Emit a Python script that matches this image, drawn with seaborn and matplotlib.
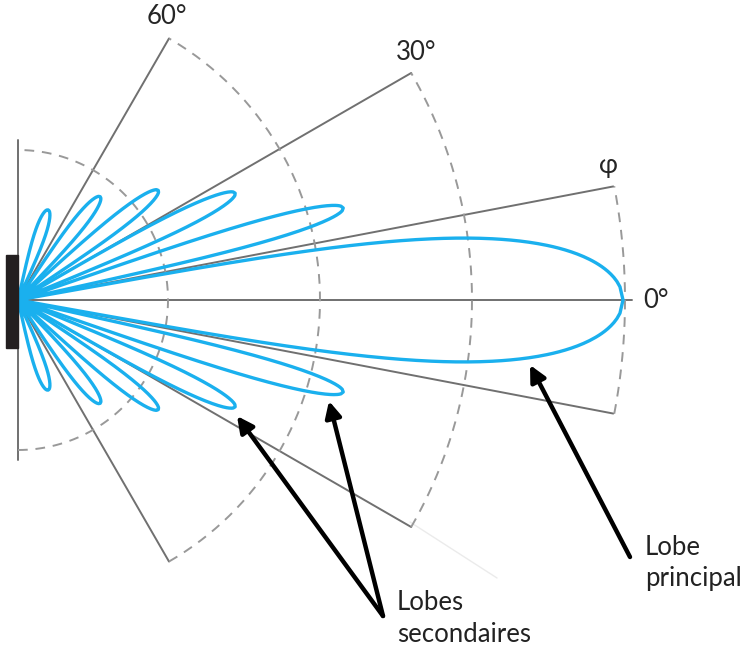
import numpy as np
import pandas as pd
import matplotlib
matplotlib.use("Agg")
import matplotlib.pyplot as plt
import seaborn as sns

# lobes: axis direction (deg), length and max half-width (same units as rings)
lobe_angles = [0, 15.8, 26.2, 38.0, 51.5, 71.5]
lobe_lengths = [605, 338, 242, 178, 132, 95]
lobe_widths = [62, 11, 9, 7.5, 6.5, 5.5]

# radial reference lines
ray_angles = [0, 10.8, -10.8, 30, -30, 60, -60, 90, -90]
ray_lengths = [614, 606, 606, 454, 454, 302, 302, 160, 160]

# dashed arcs: radius and half-span (deg)
arc_radii = [150, 302, 454, 607]
arc_spans = [90, 60, 30, 10.8]

angle_labels = ["60°", "30°", "φ", "0°"]

BLUE = "#1ab0ee"
GRAY = "#707070"

sns.set_style("white")
plt.rcParams["font.family"] = ["Lato", "DejaVu Sans"]

fig = plt.figure(figsize=(7.47, 6.51), dpi=100)
ax = fig.add_axes([0, 0, 1, 1])
ax.set_xlim(-18, 729)
ax.set_ylim(-351, 300)
ax.set_aspect("equal")
ax.axis("off")

# rays
for a, r in zip(ray_angles, ray_lengths):
    t = np.deg2rad(a)
    ax.plot([0, r * np.cos(t)], [0, r * np.sin(t)], color=GRAY, lw=1.4, zorder=1)

# faint leftover line below the -30 deg ray
ax.plot([392, 479], [-222, -278], color="#ebebeb", lw=1, zorder=0)

# dashed arcs
for r, sp in zip(arc_radii, arc_spans):
    t = np.deg2rad(np.linspace(-sp, sp, 200))
    ax.plot(r * np.cos(t), r * np.sin(t), color="#999999", lw=1.4,
            ls=(0, (5, 4)), zorder=1)

# lobes -> long table for seaborn
s = np.linspace(0, 1, 200)
shape = s * np.sqrt(1 - s ** 3) / 0.5714
rows = []
k = 0
for a, L, W in zip(lobe_angles, lobe_lengths, lobe_widths):
    for sign in ([1] if a == 0 else [1, -1]):
        th = np.deg2rad(a * sign)
        t = np.concatenate([s * L, (s * L)[::-1]])
        w = np.concatenate([shape * W, -(shape * W)[::-1]])
        x = t * np.cos(th) - w * np.sin(th)
        y = t * np.sin(th) + w * np.cos(th)
        rows.append(pd.DataFrame({"x": x, "y": y, "lobe": k}))
        k += 1
lobes = pd.concat(rows, ignore_index=True)
sns.lineplot(data=lobes, x="x", y="y", units="lobe", estimator=None,
             sort=False, color=BLUE, lw=2.4, ax=ax, zorder=3)

# transducer
ax.add_patch(plt.Rectangle((-12, -48), 12, 93, color="#231f20", zorder=4))

# angle labels
fs = 18.5
ax.text(149, 283, angle_labels[0], fontsize=fs, ha="center", va="center")
ax.text(398, 248, angle_labels[1], fontsize=fs, ha="center", va="center")
ax.text(590, 134, angle_labels[2], fontsize=fs, ha="center", va="center")
ax.text(638, -1, angle_labels[3], fontsize=fs, ha="center", va="center")

# annotations
arrow = dict(arrowstyle="-|>", lw=3.2, color="black", mutation_scale=24,
             shrinkA=0, shrinkB=0)
ax.annotate("", xy=(512, -65), xytext=(612, -257), arrowprops=arrow)
ax.annotate("", xy=(219, -116), xytext=(365, -316), arrowprops=arrow)
ax.annotate("", xy=(311, -101), xytext=(365, -316), arrowprops=arrow)

ax.text(627, -255, "Lobe", fontsize=fs, color="#222222", va="baseline")
ax.text(627, -286, "principal", fontsize=fs, color="#222222", va="baseline")
ax.text(379, -310, "Lobes", fontsize=fs, color="#222222", va="baseline")
ax.text(379, -342, "secondaires", fontsize=fs, color="#222222", va="baseline")

fig.savefig("out.png", dpi=100)
